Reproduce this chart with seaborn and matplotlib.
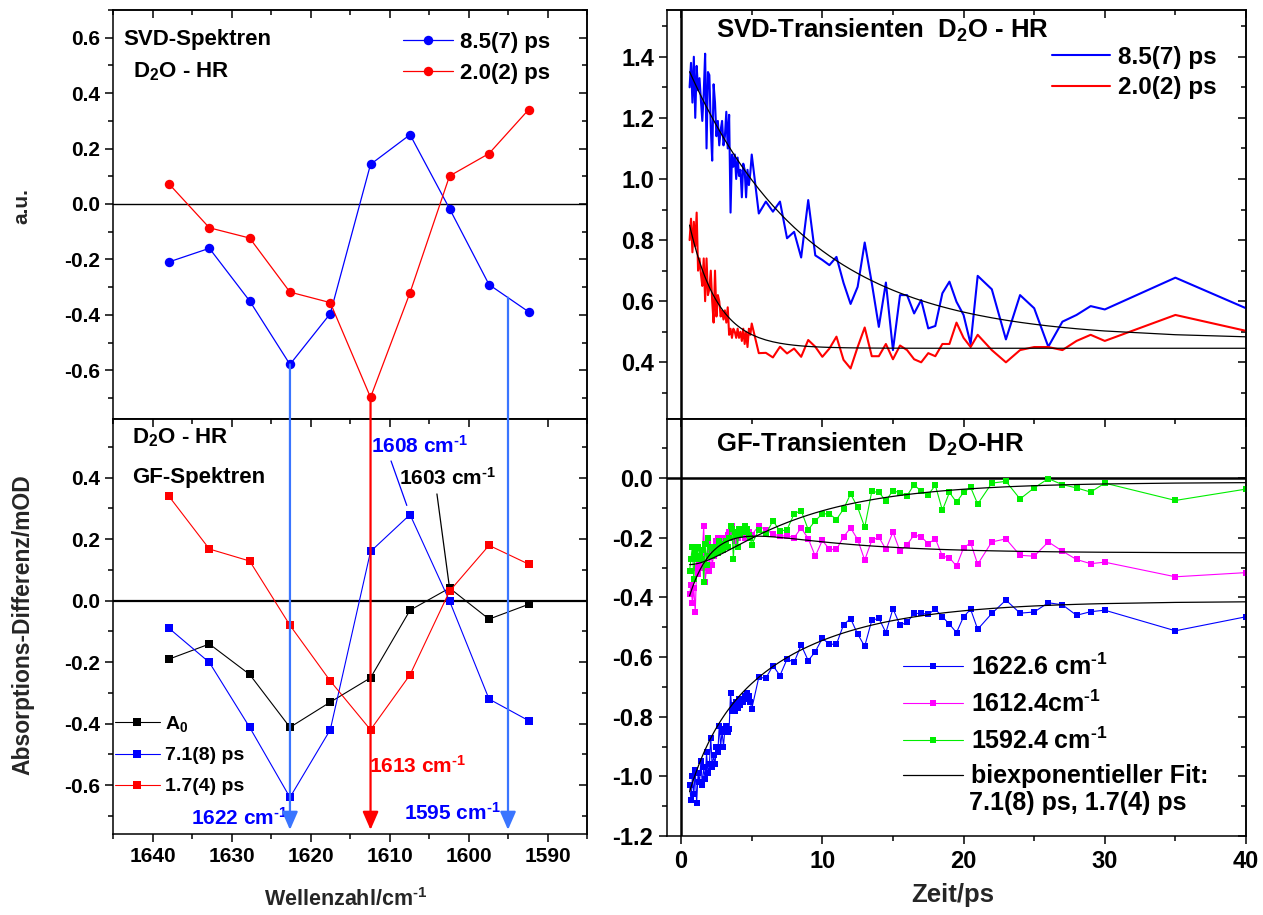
import numpy as np
import matplotlib
matplotlib.use("Agg")
import matplotlib.pyplot as plt
import matplotlib.transforms as mtransforms
from matplotlib.patches import ConnectionPatch, ArrowStyle
from matplotlib.ticker import MultipleLocator, FormatStrFormatter
import seaborn as sns

# ---------------------------------------------------------------- spectra
wavenumber = [1637.9, 1632.8, 1627.7, 1622.6, 1617.5, 1612.4, 1607.4, 1602.4, 1597.4, 1592.4]

# SVD spectra (a.u.)
svd_spec_85 = [-0.209, -0.160, -0.350, -0.579, -0.396, 0.143, 0.250, -0.017, -0.291, -0.389]   # 8.5(7) ps
svd_spec_20 = [0.072, -0.086, -0.123, -0.318, -0.356, -0.698, -0.320, 0.101, 0.182, 0.340]     # 2.0(2) ps

# global-fit spectra (mOD)
gf_spec_a0 = [-0.190, -0.141, -0.240, -0.412, -0.330, -0.251, -0.031, 0.041, -0.060, -0.012]
gf_spec_71 = [-0.090, -0.201, -0.412, -0.640, -0.420, 0.160, 0.280, -0.001, -0.320, -0.390]   # 7.1(8) ps
gf_spec_17 = [0.339, 0.168, 0.129, -0.080, -0.261, -0.420, -0.241, 0.031, 0.180, 0.119]       # 1.7(4) ps

# band positions marked by arrows
band_marks = [1622.6, 1612.4, 1595.0]

# ---------------------------------------------------------------- transients
# delay grid: 0.1 ps steps up to 5 ps, 0.5 ps up to 21 ps, 1 ps up to 30 ps, then 35 and 40 ps
delay = np.concatenate([
    np.round(np.arange(0.6, 4.95, 0.1), 1),
    np.arange(5.0, 21.01, 0.5),
    np.arange(22.0, 30.01, 1.0),
    [35.0, 40.0],
])

svd_tr_85 = [
    1.30, 1.38, 1.25, 1.40, 1.20, 1.37, 1.29, 1.33, 1.26, 1.19,
    1.28, 1.41, 1.10, 1.35, 1.34, 1.17, 1.06, 1.31, 1.25, 1.14,
    1.19, 1.11, 1.16, 1.19, 1.11, 1.14, 1.22, 1.10, 1.21, 0.89,
    1.08, 1.04, 1.08, 1.00, 1.07, 1.01, 1.03, 0.94, 1.05, 1.03,
    0.94, 1.03, 0.98, 1.02,
    1.08, 0.887, 0.926, 0.893, 0.926, 0.806, 0.827, 0.743, 0.931, 0.75,
    0.735, 0.718, 0.745, 0.66, 0.591, 0.647, 0.792, 0.66, 0.516, 0.661,
    0.44, 0.62, 0.62, 0.56, 0.604, 0.511, 0.519, 0.626, 0.664, 0.598,
    0.555, 0.46, 0.683,
    0.639, 0.475, 0.62, 0.577, 0.451, 0.533, 0.555, 0.584, 0.573,
    0.677, 0.577,
]
svd_tr_20 = [
    0.80, 0.87, 0.76, 0.86, 0.78, 0.89, 0.70, 0.74, 0.69, 0.65,
    0.74, 0.60, 0.74, 0.62, 0.64, 0.70, 0.60, 0.53, 0.70, 0.55,
    0.62, 0.60, 0.55, 0.57, 0.54, 0.57, 0.53, 0.58, 0.49, 0.51,
    0.48, 0.51, 0.50, 0.48, 0.51, 0.48, 0.50, 0.47, 0.51, 0.46,
    0.50, 0.45, 0.51, 0.49,
    0.527, 0.43, 0.431, 0.416, 0.451, 0.429, 0.445, 0.418, 0.473, 0.451,
    0.418, 0.445, 0.484, 0.408, 0.38, 0.45, 0.514, 0.42, 0.42, 0.46,
    0.41, 0.455, 0.44, 0.41, 0.40, 0.43, 0.42, 0.46, 0.46, 0.53,
    0.48, 0.45, 0.49,
    0.44, 0.40, 0.44, 0.45, 0.45, 0.44, 0.47, 0.49, 0.47,
    0.555, 0.503,
]
gf_tr_1622 = [
    -1.03, -1.08, -1.00, -1.06, -0.98, -1.09, -0.99, -1.02, -0.95, -1.03,
    -0.97, -1.01, -0.92, -0.99, -0.96, -0.87, -0.97, -0.93, -0.96, -0.90,
    -0.92, -0.83, -0.90, -0.85, -0.90, -0.84, -0.83, -0.85, -0.84, -0.72,
    -0.78, -0.76, -0.78, -0.75, -0.77, -0.74, -0.76, -0.74, -0.75, -0.73,
    -0.74, -0.72, -0.73, -0.75,
    -0.774, -0.668, -0.671, -0.629, -0.662, -0.607, -0.618, -0.560, -0.612, -0.582,
    -0.537, -0.557, -0.557, -0.492, -0.471, -0.523, -0.564, -0.477, -0.470, -0.518,
    -0.438, -0.493, -0.484, -0.454, -0.454, -0.456, -0.440, -0.465, -0.490, -0.518,
    -0.465, -0.440, -0.507,
    -0.454, -0.409, -0.453, -0.449, -0.418, -0.425, -0.460, -0.448, -0.443,
    -0.512, -0.465,
]
gf_tr_1612 = [
    -0.39, -0.36, -0.42, -0.37, -0.45, -0.30, -0.32, -0.28, -0.30, -0.25,
    -0.16, -0.35, -0.30, -0.22, -0.31, -0.24, -0.29, -0.26, -0.24, -0.21,
    -0.20, -0.23, -0.21, -0.20, -0.22, -0.20, -0.23, -0.19, -0.18, -0.17,
    -0.16, -0.18, -0.21, -0.19, -0.20, -0.17, -0.18, -0.19, -0.18, -0.20,
    -0.19, -0.19, -0.18, -0.20,
    -0.19, -0.161, -0.173, -0.187, -0.195, -0.193, -0.200, -0.167, -0.203, -0.262,
    -0.209, -0.239, -0.239, -0.197, -0.167, -0.206, -0.275, -0.209, -0.198, -0.239,
    -0.181, -0.245, -0.223, -0.191, -0.197, -0.220, -0.203, -0.262, -0.267, -0.295,
    -0.234, -0.217, -0.289,
    -0.214, -0.204, -0.259, -0.262, -0.214, -0.245, -0.273, -0.287, -0.282,
    -0.331, -0.317,
]
gf_tr_1592 = [
    -0.31, -0.27, -0.23, -0.34, -0.25, -0.27, -0.23, -0.26, -0.27, -0.24,
    -0.35, -0.22, -0.29, -0.20, -0.26, -0.23, -0.26, -0.25, -0.23, -0.25,
    -0.25, -0.21, -0.24, -0.22, -0.24, -0.22, -0.21, -0.23, -0.20, -0.16,
    -0.17, -0.27, -0.18, -0.19, -0.23, -0.17, -0.19, -0.17, -0.18, -0.16,
    -0.18, -0.17, -0.19, -0.20,
    -0.223, -0.173, -0.189, -0.143, -0.178, -0.173, -0.120, -0.109, -0.173, -0.143,
    -0.120, -0.120, -0.139, -0.104, -0.053, -0.098, -0.165, -0.045, -0.048, -0.076,
    -0.042, -0.050, -0.059, -0.022, -0.045, -0.056, -0.024, -0.108, -0.048, -0.081,
    -0.048, -0.031, -0.087,
    -0.017, -0.011, -0.070, -0.033, -0.002, -0.022, -0.033, -0.047, -0.017,
    -0.075, -0.037,
]

# exponential fit parameters: offset, amplitude(s); time constants in ps
tau_svd = [8.5, 2.0]
svd_fit_85 = dict(c=0.475, a=0.94)
svd_fit_20 = dict(c=0.446, a=0.544)
tau_gf = [7.1, 1.7]
gf_fit_1622 = dict(c=-0.413, a1=-0.535, a2=-0.209)
gf_fit_1612 = dict(c=-0.251, a1=0.157, a2=-0.410)
gf_fit_1592 = dict(c=-0.014, a1=-0.393, a2=0.121)


def mono_exp(t, c, a, tau):
    return c + a * np.exp(-np.asarray(t) / tau)


def bi_exp(t, c, a1, a2, tau1, tau2):
    t = np.asarray(t)
    return c + a1 * np.exp(-t / tau1) + a2 * np.exp(-t / tau2)


# ---------------------------------------------------------------- style
sns.set_theme(style="ticks")
plt.rcParams.update({
    "font.family": ["Liberation Sans", "DejaVu Sans"],
    "font.weight": "bold",
    "axes.labelweight": "bold",
    "mathtext.fontset": "custom",
    "mathtext.rm": "Liberation Sans:bold",
    "mathtext.it": "Liberation Sans:bold",
    "mathtext.bf": "Liberation Sans:bold",
    "mathtext.default": "regular",
    "axes.unicode_minus": False,
    "axes.linewidth": 1.1,
    "axes.edgecolor": "black",
    "text.color": "black",
    "xtick.color": "black",
    "ytick.color": "black",
})

BLUE, RED, BLACK = "#0000ff", "#ff0000", "#000000"
MAGENTA, GREEN = "#ff00ff", "#00ee00"
ARROW_BLUE = "#3a75ff"
CM = "cm$^{\u20101}$"          # cm^-1 with a short hyphen

W, H = 1263, 915
fig = plt.figure(figsize=(W / 100, H / 100), dpi=100)
fig.patch.set_facecolor("white")


def px_axes(x0, y0, x1, y1):
    return fig.add_axes([x0 / W, 1 - y1 / H, (x1 - x0) / W, (y1 - y0) / H])


ax_tl = px_axes(113, 10, 587, 419)
ax_bl = px_axes(113, 419, 587, 834)
ax_tr = px_axes(667, 10, 1246, 419)
ax_br = px_axes(667, 419, 1246, 836)


def line(ax, x, y, color, lw, marker=None, ms=0, label=None, z=2):
    kw = dict(x=x, y=y, ax=ax, color=color, linewidth=lw, estimator=None,
              sort=False, zorder=z, legend=False)
    if marker:
        kw.update(marker=marker, markersize=ms, markeredgewidth=0,
                  markeredgecolor=color, markerfacecolor=color)
    if label:
        kw["label"] = label
    sns.lineplot(**kw)


def setup_ticks(ax, xmaj, xmin, ymaj, ymin, labelsize, show_xlabels=True, pad=3):
    ax.xaxis.set_major_locator(MultipleLocator(xmaj))
    ax.xaxis.set_minor_locator(MultipleLocator(xmin))
    ax.yaxis.set_major_locator(MultipleLocator(ymaj))
    ax.yaxis.set_minor_locator(MultipleLocator(ymin))
    ax.tick_params(which="both", direction="out", top=False, right=False,
                   width=1.1, labelsize=labelsize, pad=pad,
                   labelbottom=show_xlabels)
    ax.tick_params(which="major", length=6)
    ax.tick_params(which="minor", length=3.5)
    # mirrored ticks pointing inward on the top and right frames
    top = ax.secondary_xaxis("top")
    top.xaxis.set_major_locator(MultipleLocator(xmaj))
    top.xaxis.set_minor_locator(MultipleLocator(xmin))
    top.tick_params(which="both", direction="in", width=1.1, labeltop=False,
                    labelbottom=False)
    top.tick_params(which="major", length=6)
    top.tick_params(which="minor", length=3.5)
    top.spines["top"].set_linewidth(1.1)
    right = ax.secondary_yaxis("right")
    right.yaxis.set_major_locator(MultipleLocator(ymaj))
    right.yaxis.set_minor_locator(MultipleLocator(ymin))
    right.tick_params(which="both", direction="in", width=1.1, labelright=False,
                      labelleft=False)
    right.tick_params(which="major", length=6)
    right.tick_params(which="minor", length=3.5)
    right.spines["right"].set_linewidth(1.1)
    for s in ax.spines.values():
        s.set_visible(True)
        s.set_linewidth(1.1)
        s.set_color("black")


# ---------------------------------------------------------------- top left: SVD spectra
ax = ax_tl
ax.axhline(0, color="black", lw=1.0, zorder=1)
line(ax, wavenumber, svd_spec_85, BLUE, 0.9, "o", 6.8, "8.5(7) ps")
line(ax, wavenumber, svd_spec_20, RED, 0.9, "o", 6.8, "2.0(2) ps")
ax.set_xlim(1645, 1585)
ax.set_ylim(-0.776, 0.70)
setup_ticks(ax, 10, 5, 0.2, 0.1, 15, show_xlabels=False)
ax.yaxis.set_major_formatter(FormatStrFormatter("%.1f"))
ax.set_xlabel("")
ax.set_ylabel("a.u.", fontsize=15, fontweight="bold")
ax.yaxis.set_label_coords(-0.172, 0.52)
ax.text(0.021, 0.929, "SVD-Spektren", transform=ax.transAxes, fontsize=16,
        fontweight="bold", ha="left", va="center")
ax.text(0.042, 0.848, "D$_2$O - HR", transform=ax.transAxes, fontsize=16,
        fontweight="bold", ha="left", va="center")
ax.legend(loc="upper left", bbox_to_anchor=(0.612, 0.946), frameon=False,
          fontsize=16, handlelength=2.25, handletextpad=0.32, labelspacing=0.45,
          borderpad=0, borderaxespad=0)

# ---------------------------------------------------------------- bottom left: GF spectra
ax = ax_bl
ax.axhline(0, color="black", lw=1.6, zorder=1)
line(ax, wavenumber, gf_spec_a0, BLACK, 0.8, "s", 6.0, "A$_0$")
line(ax, wavenumber, gf_spec_71, BLUE, 0.8, "s", 6.0, "7.1(8) ps")
line(ax, wavenumber, gf_spec_17, RED, 0.8, "s", 6.0, "1.7(4) ps")
ax.set_xlim(1645, 1585)
ax.set_ylim(-0.759, 0.591)
setup_ticks(ax, 10, 5, 0.2, 0.1, 15)
ax.yaxis.set_major_formatter(FormatStrFormatter("%.1f"))
ax.set_xlabel("Wellenzahl/" + CM, fontsize=15.5, fontweight="bold")
ax.xaxis.set_label_coords(0.491, -0.13)
ax.set_ylabel("Absorptions-Differenz/mOD", fontsize=16.5, fontweight="bold")
ax.yaxis.set_label_coords(-0.165, 0.505)
ax.text(0.040, 0.954, "D$_2$O - HR", transform=ax.transAxes, fontsize=16,
        fontweight="bold", ha="left", va="center")
ax.text(0.040, 0.858, "GF-Spektren", transform=ax.transAxes, fontsize=16,
        fontweight="bold", ha="left", va="center")
ax.legend(loc="upper left", bbox_to_anchor=(0.004, 0.29), frameon=False,
          fontsize=14, handlelength=2.3, handletextpad=0.26, labelspacing=0.68,
          borderpad=0, borderaxespad=0)

ax.annotate("1608 " + CM, xy=(wavenumber[6], gf_spec_71[6]), xytext=(1606.2, 0.505),
            textcoords="data", ha="center", va="center", color=BLUE, fontsize=15,
            fontweight="bold",
            arrowprops=dict(arrowstyle="-", color=BLUE, lw=0.9, relpos=(0.19, 0.0),
                            shrinkA=1, shrinkB=7))
ax.annotate("1603 " + CM, xy=(wavenumber[7], gf_spec_a0[7]), xytext=(1602.6, 0.398),
            textcoords="data", ha="center", va="center", color=BLACK, fontsize=15,
            fontweight="bold",
            arrowprops=dict(arrowstyle="-", color=BLACK, lw=0.9, relpos=(0.38, 0.0),
                            shrinkA=1, shrinkB=3))
ax.text(1606.4, -0.536, "1613 " + CM, color=RED, fontsize=15, fontweight="bold",
        ha="center", va="center")
ax.text(1629.0, -0.707, "1622 " + CM, color=BLUE, fontsize=15, fontweight="bold",
        ha="center", va="center")
ax.text(1602.0, -0.691, "1595 " + CM, color=BLUE, fontsize=15, fontweight="bold",
        ha="center", va="center")

# arrows from the SVD spectra down to the wavenumber axis
wn_asc = np.array(wavenumber)[::-1]
arrow_starts = [
    (band_marks[0], np.interp(band_marks[0], wn_asc, np.array(svd_spec_85)[::-1]), ARROW_BLUE),
    (band_marks[1], np.interp(band_marks[1], wn_asc, np.array(svd_spec_20)[::-1]), RED),
    (band_marks[2], np.interp(band_marks[2], wn_asc, np.array(svd_spec_85)[::-1]), ARROW_BLUE),
]
tip_tf = mtransforms.blended_transform_factory(ax_bl.transData, ax_bl.transAxes)
head = ArrowStyle("-|>", head_length=1.1, head_width=0.48)
for x0, y0, col in arrow_starts:
    con = ConnectionPatch(xyA=(x0, y0), coordsA=ax_tl.transData,
                          xyB=(x0, 0.01), coordsB=tip_tf,
                          arrowstyle=head, mutation_scale=10, color=col, lw=1.6,
                          zorder=5)
    fig.add_artist(con)

# ---------------------------------------------------------------- top right: SVD transients
ax = ax_tr
ax.axvline(0, color="black", lw=1.8, zorder=1)
line(ax, delay, svd_tr_85, BLUE, 1.5, label="8.5(7) ps")
line(ax, delay, svd_tr_20, RED, 1.5, label="2.0(2) ps")
line(ax, delay, mono_exp(delay, svd_fit_85["c"], svd_fit_85["a"], tau_svd[0]), BLACK, 0.9, z=3)
line(ax, delay, mono_exp(delay, svd_fit_20["c"], svd_fit_20["a"], tau_svd[1]), BLACK, 0.9, z=3)
ax.set_xlim(-1, 40)
ax.set_ylim(0.2145, 1.553)
setup_ticks(ax, 10, 5, 0.2, 0.1, 17, show_xlabels=False)
ax.yaxis.set_major_formatter(FormatStrFormatter("%.1f"))
ax.set_xlabel("")
ax.set_ylabel("")
ax.text(0.085, 0.951, "SVD-Transienten  D$_2$O - HR", transform=ax.transAxes,
        fontsize=18.5, fontweight="bold", ha="left", va="center")
ax.legend(loc="upper left", bbox_to_anchor=(0.665, 0.912), frameon=False,
          fontsize=17.5, handlelength=2.4, handletextpad=0.32, labelspacing=0.3,
          borderpad=0, borderaxespad=0)

# ---------------------------------------------------------------- bottom right: GF transients
ax = ax_br
ax.axvline(0, color="black", lw=1.8, zorder=1)
ax.axhline(0, color="black", lw=1.8, zorder=1)
line(ax, delay, gf_tr_1622, BLUE, 0.8, "s", 4.2, "1622.6 " + CM)
line(ax, delay, gf_tr_1612, MAGENTA, 0.8, "s", 4.2, "1612.4" + CM)
line(ax, delay, gf_tr_1592, GREEN, 0.8, "s", 4.2, "1592.4 " + CM)
line(ax, delay, bi_exp(delay, **gf_fit_1622, tau1=tau_gf[0], tau2=tau_gf[1]), BLACK, 0.9,
     label="biexponentieller Fit:", z=3)
line(ax, delay, bi_exp(delay, **gf_fit_1612, tau1=tau_gf[0], tau2=tau_gf[1]), BLACK, 0.9, z=3)
line(ax, delay, bi_exp(delay, **gf_fit_1592, tau1=tau_gf[0], tau2=tau_gf[1]), BLACK, 0.9, z=3)
ax.set_xlim(-1, 40)
ax.set_ylim(-1.2, 0.198)
setup_ticks(ax, 10, 5, 0.2, 0.1, 17, pad=4)
ax.yaxis.set_major_formatter(FormatStrFormatter("%.1f"))
ax.set_xlabel("Zeit/ps", fontsize=18.5, fontweight="bold")
ax.xaxis.set_label_coords(0.494, -0.112)
ax.set_ylabel("")
ax.text(0.085, 0.938, "GF-Transienten   D$_2$O-HR", transform=ax.transAxes,
        fontsize=18.5, fontweight="bold", ha="left", va="center")
ax.legend(loc="upper left", bbox_to_anchor=(0.408, 0.437), frameon=False,
          fontsize=18, handlelength=2.4, handletextpad=0.32, labelspacing=0.42,
          borderpad=0, borderaxespad=0)
# second line of the fit entry: the two time constants
ax.text(0.521, 0.079, "7.1(8) ps, 1.7(4) ps", transform=ax.transAxes, fontsize=18,
        fontweight="bold", ha="left", va="center")

fig.savefig("out.png", dpi=100, facecolor="white")
